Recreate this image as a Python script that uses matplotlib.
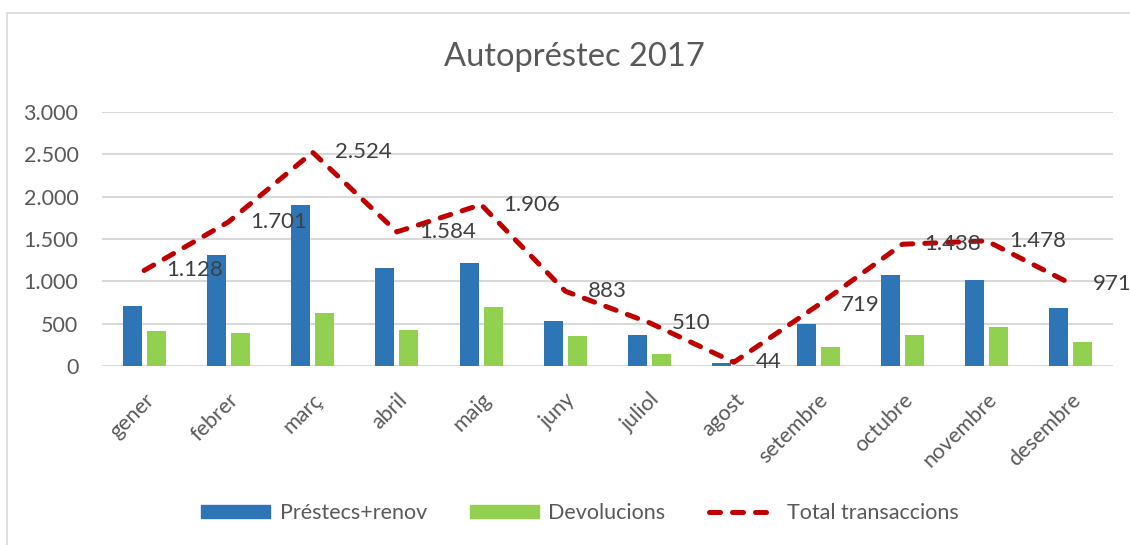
import matplotlib
matplotlib.use("Agg")
import matplotlib.pyplot as plt
from matplotlib.patches import Rectangle
from matplotlib.lines import Line2D
import numpy as np

months = ["gener", "febrer", "març", "abril", "maig", "juny", "juliol",
          "agost", "setembre", "octubre", "novembre", "desembre"]
prestecs = [710, 1315, 1900, 1157, 1215, 530, 370, 30, 500, 1073, 1018, 688]
devolucions = [418, 386, 624, 427, 691, 353, 140, 14, 219, 365, 460, 283]
total = [1128, 1701, 2524, 1584, 1906, 883, 510, 44, 719, 1438, 1478, 971]
yticks = [0, 500, 1000, 1500, 2000, 2500, 3000]

BLUE = "#2E75B6"
GREEN = "#92D050"
RED = "#C00000"
GRID = "#D9D9D9"
TXT = "#595959"
LBL = "#404040"

plt.rcParams['font.family'] = ['Lato', 'DejaVu Sans']

W, H = 1130, 545
fig = plt.figure(figsize=(W / 100, H / 100), dpi=100)
fig.patch.set_facecolor("white")

# outer chart border (left and top visible; right/bottom beyond the image)
fig.patches.append(Rectangle((7 / W, -0.01), 1.05, 1.01 - 13 / H,
                             transform=fig.transFigure, fill=False,
                             edgecolor=GRID, linewidth=1.2, zorder=0))

ax = fig.add_axes([102 / W, (H - 366) / H, 1011 / W, 254 / H])
x = np.arange(len(months))
bw = 0.226
off = 0.143
ax.bar(x - off, prestecs, width=bw, color=BLUE, zorder=2)
ax.bar(x + off, devolucions, width=bw, color=GREEN, zorder=2)
ax.plot(x, total, color=RED, linewidth=3.6, linestyle=(0, (2.2, 2.4)),
        dash_capstyle='round', solid_joinstyle='round', zorder=3)

for xi, v in zip(x, total):
    ax.annotate(f"{v:,}".replace(",", "."), (xi, v), xytext=(16, 0),
                textcoords="offset points", ha="left", va="center",
                fontsize=16, color=LBL, zorder=4, annotation_clip=False)

ax.set_xlim(-0.5, len(months) - 0.5)
ax.set_ylim(0, 3000)
ax.set_yticks(yticks)
ax.set_yticklabels([f"{t:,}".replace(",", ".") for t in yticks])
ax.yaxis.grid(True, color=GRID, linewidth=1.5, zorder=0)
ax.set_axisbelow(True)
for s in ax.spines.values():
    s.set_visible(False)
ax.tick_params(axis='both', length=0, labelsize=15.5, labelcolor=TXT)
ax.tick_params(axis='y', pad=17)
ax.set_xticks(x)
ax.set_xticklabels(months, rotation=45, ha='right', va='top',
                   rotation_mode='anchor')
ax.tick_params(axis='x', pad=17)

fig.text(574 / W, 1 - 57 / H, "Autopréstec 2017", ha='center', va='center',
         fontsize=23.5, color=TXT)

handles = [Rectangle((0, 0), 1, 1, color=BLUE),
           Rectangle((0, 0), 1, 1, color=GREEN),
           Line2D([0], [0], color=RED, linewidth=3.6, linestyle=(0, (2.2, 2.4)),
                  dash_capstyle='round')]
leg = fig.legend(handles, ["Préstecs+renov", "Devolucions", "Total transaccions"],
                 loc='center', bbox_to_anchor=(580 / W, 1 - 513 / H), ncol=3,
                 frameon=False, fontsize=15.5, handlelength=3.2, handleheight=0.6,
                 handletextpad=0.45, columnspacing=2.0)
for t in leg.get_texts():
    t.set_color(TXT)

fig.savefig("out.png", dpi=100)
